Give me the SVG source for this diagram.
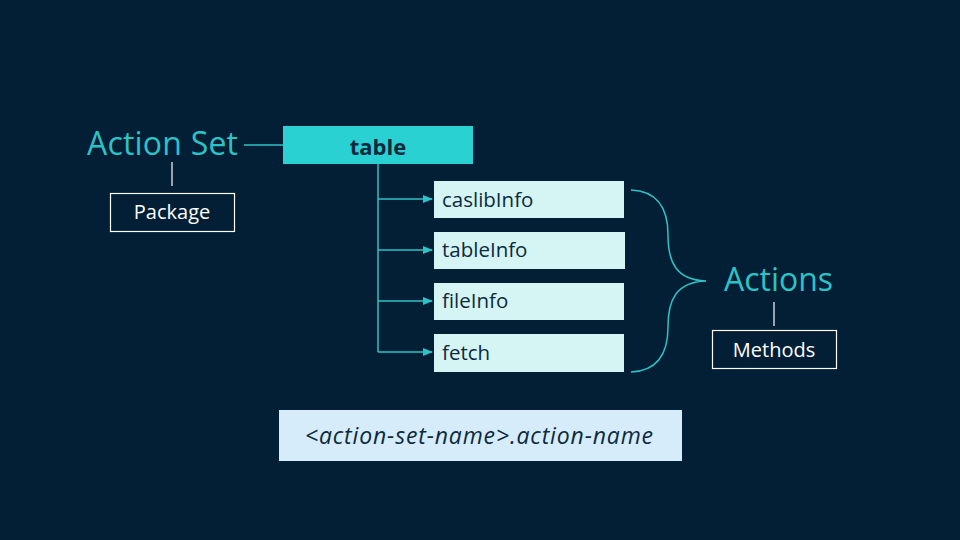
<svg xmlns="http://www.w3.org/2000/svg" width="960" height="540" viewBox="0 0 960 540">
<defs>
<style>
.bg{fill:#021f36}
.big{font-family:"Open Sans","Noto Sans",sans-serif;font-size:32px;fill:#2cc3c6}
.lbl{font-family:"Open Sans","Noto Sans",sans-serif;font-size:20px;fill:#ffffff}
.outline{fill:none;stroke:#ffffff;stroke-width:1.2}
.act{fill:#d5f5f5}
.acttxt{font-family:"Open Sans","Noto Sans",sans-serif;font-size:20.5px;fill:#0c2a3e}
.conn{stroke:#2cc3c6;stroke-width:1.5;fill:none}
.thin{stroke:#ffffff;stroke-width:1.2;fill:none}
</style>
<marker id="arr" markerWidth="10" markerHeight="10" refX="9" refY="5" orient="auto" markerUnits="userSpaceOnUse">
<path d="M0,1 L10,5 L0,9 Z" fill="#2cc3c6"/>
</marker>
</defs>
<rect class="bg" x="0" y="0" width="960" height="540"/>

<g id="connectors">
<line class="conn" x1="244" y1="145" x2="283" y2="145"/>
<line class="thin" x1="172" y1="162" x2="172" y2="186"/>
<line class="conn" x1="378" y1="164" x2="378" y2="352"/>
<line class="conn" x1="378" y1="199" x2="432" y2="199" marker-end="url(#arr)"/>
<line class="conn" x1="378" y1="250" x2="432" y2="250" marker-end="url(#arr)"/>
<line class="conn" x1="378" y1="301" x2="432" y2="301" marker-end="url(#arr)"/>
<line class="conn" x1="378" y1="352" x2="432" y2="352" marker-end="url(#arr)"/>
<path class="conn" d="M631,190 C655,191 668,205 668,235 C668,262 676,280 706,281 C676,282 668,300 668,327 C668,357 655,371 631,372"/>
<line class="thin" x1="774" y1="302" x2="774" y2="326"/>
</g>

<g id="actionset">
<text class="big" x="87" y="155" textLength="151">Action Set</text>
</g>
<g id="package">
<rect class="outline" x="110.5" y="193.5" width="124" height="38"/>
<text class="lbl" x="172" y="219" text-anchor="middle">Package</text>
</g>
<g id="table">
<rect x="283" y="126" width="190" height="38" fill="#2ad1d3"/>
<text x="378" y="155" text-anchor="middle" font-family="'Open Sans','Noto Sans',sans-serif" font-size="22" font-weight="bold" fill="#0c2a3e">table</text>
</g>
<g id="caslibInfo">
<rect class="act" x="434" y="181" width="190" height="37"/>
<text class="acttxt" x="442" y="207">caslibInfo</text>
</g>
<g id="tableInfo">
<rect class="act" x="434" y="232" width="191" height="37"/>
<text class="acttxt" x="442" y="257">tableInfo</text>
</g>
<g id="fileInfo">
<rect class="act" x="434" y="283" width="190" height="37"/>
<text class="acttxt" x="442" y="308">fileInfo</text>
</g>
<g id="fetch">
<rect class="act" x="434" y="334" width="190" height="38"/>
<text class="acttxt" x="442" y="360">fetch</text>
</g>
<g id="actions">
<text class="big" x="724" y="291" textLength="109">Actions</text>
</g>
<g id="methods">
<rect class="outline" x="712.5" y="330.5" width="124" height="38"/>
<text class="lbl" x="774" y="357" text-anchor="middle">Methods</text>
</g>
<g id="syntax">
<rect x="279" y="410" width="403" height="51" fill="#d6ecfb"/>
<text x="305" y="444" textLength="348" font-family="'Open Sans','Noto Sans',sans-serif" font-size="23" font-style="italic" fill="#0c2a3e">&lt;action-set-name&gt;.action-name</text>
</g>
</svg>
